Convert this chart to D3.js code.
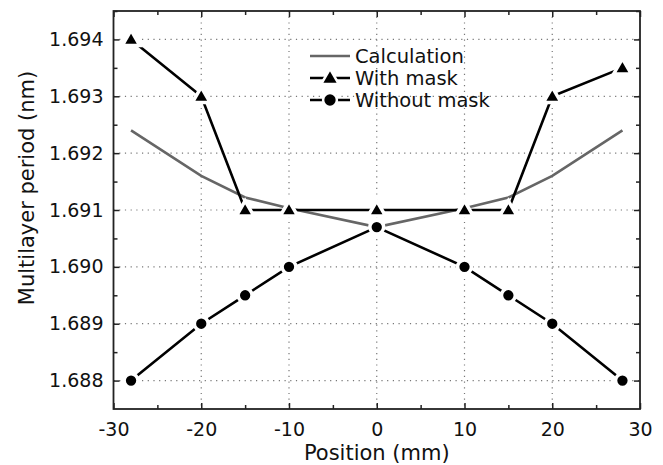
<!DOCTYPE html>
<html>
<head>
<meta charset="utf-8">
<script src="https://cdn.jsdelivr.net/npm/d3@7"></script>
<style>
  body { margin: 0; background: #fff; }
  text { font-family: "DejaVu Sans", sans-serif; fill: #111; }
</style>
</head>
<body>
<div id="chart"></div>
<script>
// Data
const positions = [-28, -20, -15, -10, 0, 10, 15, 20, 28];
const withMask = [1.694, 1.693, 1.691, 1.691, 1.691, 1.691, 1.691, 1.693, 1.6935];
const withoutMask = [1.688, 1.689, 1.6895, 1.690, 1.6907, 1.690, 1.6895, 1.689, 1.688];
const calcPositions = [-28, -20, -15, -10, 0, 10, 15, 20, 28];
const calculation = [1.6924, 1.6916, 1.69122, 1.69103, 1.6907, 1.69103, 1.69122, 1.6916, 1.6924];
const xTicks = [-30, -20, -10, 0, 10, 20, 30];
const yTicks = [1.688, 1.689, 1.690, 1.691, 1.692, 1.693, 1.694];

const W = 663, H = 465;
const margin = { top: 11, right: 23, bottom: 56, left: 113.5 };
const width = W - margin.left - margin.right;
const height = H - margin.top - margin.bottom;

const svg = d3.select("#chart").append("svg")
  .attr("width", W)
  .attr("height", H);

const g = svg.append("g")
  .attr("transform", `translate(${margin.left},${margin.top})`);

const x = d3.scaleLinear().domain([-30, 30]).range([0, width]);
const y = d3.scaleLinear().domain([1.6875, 1.6945]).range([height, 0]);

// dotted grid
g.append("g").selectAll("line")
  .data(xTicks.slice(1, -1))
  .join("line")
  .attr("x1", d => x(d)).attr("x2", d => x(d))
  .attr("y1", 0).attr("y2", height)
  .attr("stroke", "#777").attr("stroke-width", 1.2)
  .attr("stroke-dasharray", "1.2,4.5");
g.append("g").selectAll("line")
  .data(yTicks)
  .join("line")
  .attr("y1", d => y(d)).attr("y2", d => y(d))
  .attr("x1", 0).attr("x2", width)
  .attr("stroke", "#777").attr("stroke-width", 1.2)
  .attr("stroke-dasharray", "1.2,4.5");

// axes (ticks inside)
const minorX = d3.range(-25, 30, 10);
const minorY = d3.range(1.6885, 1.6945, 0.001);

const xAxis = d3.axisBottom(x).tickValues(xTicks).tickSizeInner(-6).tickSizeOuter(0).tickPadding(14).tickFormat(d => String(d));
const yAxis = d3.axisLeft(y).tickValues(yTicks).tickSizeInner(-6).tickSizeOuter(0).tickPadding(10).tickFormat(d3.format(".3f"));

g.append("g").attr("transform", `translate(0,${height})`).call(xAxis);
g.append("g").call(yAxis);
g.append("g").call(d3.axisTop(x).tickValues(xTicks).tickSizeInner(-6).tickSizeOuter(0).tickFormat(""));
g.append("g").attr("transform", `translate(${width},0)`)
  .call(d3.axisRight(y).tickValues(yTicks).tickSizeInner(-6).tickSizeOuter(0).tickFormat(""));

// minor ticks
g.append("g").attr("transform", `translate(0,${height})`)
  .call(d3.axisBottom(x).tickValues(minorX).tickSizeInner(-4).tickSizeOuter(0).tickFormat(""));
g.append("g").call(d3.axisTop(x).tickValues(minorX).tickSizeInner(-4).tickSizeOuter(0).tickFormat(""));
g.append("g").call(d3.axisLeft(y).tickValues(minorY).tickSizeInner(-4).tickSizeOuter(0).tickFormat(""));
g.append("g").attr("transform", `translate(${width},0)`)
  .call(d3.axisRight(y).tickValues(minorY).tickSizeInner(-4).tickSizeOuter(0).tickFormat(""));

g.selectAll(".domain").remove();
g.selectAll(".tick line").attr("stroke", "#222").attr("stroke-width", 1.5);
g.selectAll(".tick text").attr("font-size", 19).attr("fill", "#111")
  .style("font-family", "'DejaVu Sans', sans-serif");

// frame
g.append("rect")
  .attr("width", width).attr("height", height)
  .attr("fill", "none").attr("stroke", "#222").attr("stroke-width", 1.8);

// series lines
const line = d3.line().x(d => x(d[0])).y(d => y(d[1]));

g.append("path")
  .datum(calcPositions.map((p, i) => [p, calculation[i]]))
  .attr("d", line)
  .attr("fill", "none").attr("stroke", "#666").attr("stroke-width", 2.6);

const wm = positions.map((p, i) => [p, withMask[i]]);
const wom = positions.map((p, i) => [p, withoutMask[i]]);

[wm, wom].forEach(data => {
  g.append("path").datum(data).attr("d", line)
    .attr("fill", "none").attr("stroke", "#000").attr("stroke-width", 2.6);
});

const tri = d3.symbol().type(d3.symbolTriangle).size(135);
const circ = d3.symbol().type(d3.symbolCircle).size(150);

g.append("g").selectAll("path")
  .data(wm).join("path")
  .attr("d", tri)
  .attr("transform", d => `translate(${x(d[0])},${y(d[1]) + 1})`)
  .attr("fill", "#000").attr("stroke", "#fff").attr("stroke-width", 3.5);

g.append("g").selectAll("path")
  .data(wom).join("path")
  .attr("d", circ)
  .attr("transform", d => `translate(${x(d[0])},${y(d[1])})`)
  .attr("fill", "#000").attr("stroke", "#fff").attr("stroke-width", 3.5);

// legend
const legend = svg.append("g").attr("transform", "translate(310,56)");
const items = ["Calculation", "With mask", "Without mask"];
items.forEach((name, i) => {
  const row = legend.append("g").attr("transform", `translate(0,${i * 22})`);
  row.append("line").attr("x1", 0).attr("x2", 40).attr("y1", 0).attr("y2", 0)
    .attr("stroke", i === 0 ? "#666" : "#000").attr("stroke-width", 2.6);
  if (i === 1) row.append("path").attr("d", tri).attr("transform", "translate(20,1)")
    .attr("fill", "#000").attr("stroke", "#fff").attr("stroke-width", 2.5);
  if (i === 2) row.append("path").attr("d", circ).attr("transform", "translate(20,0)")
    .attr("fill", "#000").attr("stroke", "#fff").attr("stroke-width", 2.5);
  row.append("text").attr("x", 45).attr("y", 7).attr("font-size", 19.5).text(name);
});

// axis titles
svg.append("text")
  .attr("x", margin.left + width / 2).attr("y", 460)
  .attr("text-anchor", "middle").attr("font-size", 21)
  .text("Position (mm)");
svg.append("text")
  .attr("transform", `translate(34,188) rotate(-90)`)
  .attr("text-anchor", "middle").attr("font-size", 21)
  .text("Multilayer period (nm)");
</script>
</body>
</html>
